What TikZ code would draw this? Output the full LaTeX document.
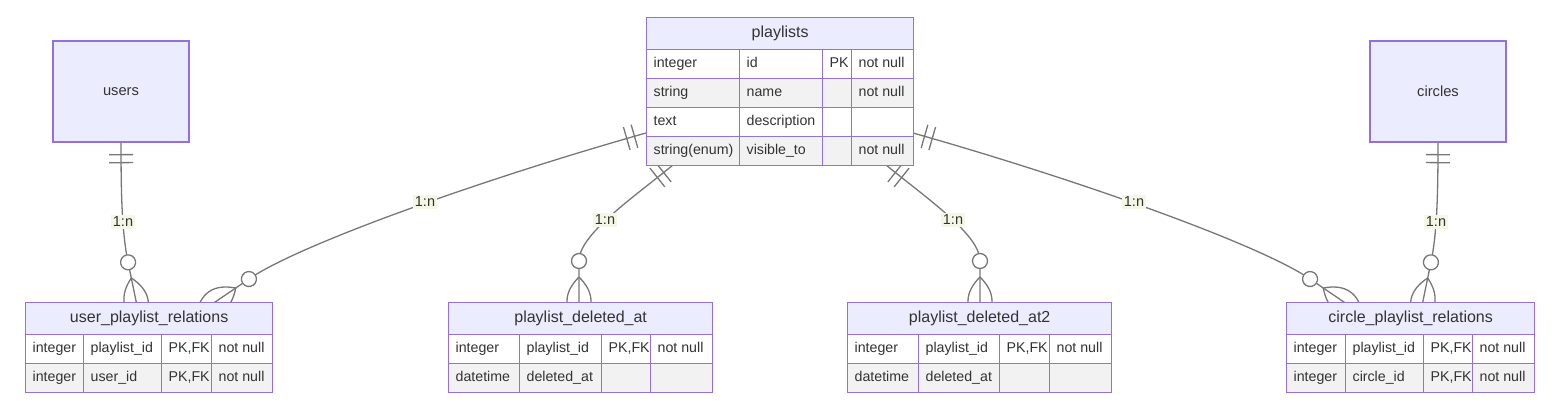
\documentclass[tikz,border=0pt]{standalone}
\usepackage{fontspec}
\setmainfont{Liberation Sans}
\usetikzlibrary{decorations.markings}
\definecolor{erborder}{HTML}{9370DB}
\definecolor{erhead}{HTML}{ECECFF}
\definecolor{errowb}{HTML}{F2F2F2}
\definecolor{ertext}{HTML}{333333}
\definecolor{erline}{HTML}{777777}
\definecolor{erlabel}{HTML}{F5F7E6}
\tikzset{
  cell/.style={draw=erborder, line width=1.3pt, anchor=north west, inner xsep=7pt, inner ysep=0pt,
    font=\fontsize{14.2}{16}\selectfont, text=ertext, text height=10.5pt, text depth=3.2pt},
  headcell/.style={cell, fill=erhead, font=\fontsize{16}{18}\selectfont, text height=11.5pt, text depth=3.5pt},
  entbox/.style={draw=erborder, line width=1.3pt, fill=erhead, text=ertext, font=\fontsize{14.7}{17}\selectfont, inner sep=0pt},
  rel/.style={draw=erline, line width=1.3pt,
    postaction={decorate},
    decoration={markings,
      mark=at position 12pt with {\draw[erline, line width=1.3pt] (0pt,-12pt) -- (0pt,12pt);},
      mark=at position 20pt with {\draw[erline, line width=1.3pt] (0pt,-12pt) -- (0pt,12pt);},
      mark=at position -1pt with {\draw[erline, line width=1.3pt] (-47pt,0pt) .. controls (-31pt,16pt) and (-15pt,16pt) .. (1pt,0pt);
                                \draw[erline, line width=1.3pt] (-47pt,0pt) .. controls (-31pt,-16pt) and (-15pt,-16pt) .. (1pt,0pt);
                                \draw[erline, line width=1.3pt, fill=white] (-63pt,0pt) circle[radius=7.5pt];}
    }},
  rellabel/.style={fill=erlabel, text=ertext, font=\fontsize{14.5}{16}\selectfont, inner xsep=2pt, inner ysep=2pt}
}
\newcommand{\ercell}[7]{%
  \pgfmathsetmacro{\cw}{#4-#2}\pgfmathsetmacro{\ch}{#5-#3}\pgfmathsetmacro{\tw}{#4-#2-14}%
  \node[cell, fill=#6, minimum width=\cw pt, minimum height=\ch pt] (#1) at (#2,#3) {\makebox[\tw pt][l]{#7}};%
}
\newcommand{\erhead}[3]{% name, y2, text
  \pgfmathsetmacro{\cw}{\xe-\xa}\pgfmathsetmacro{\ch}{#2-\ya}\pgfmathsetmacro{\tw}{\xe-\xa-14}%
  \node[headcell, minimum width=\cw pt, minimum height=\ch pt] (#1) at (\xa,\ya) {\makebox[\tw pt][c]{#3}};%
}
\newcommand{\errow}[8]{%
  \ercell{#1-1}{\xa}{#2}{\xb}{#3}{#4}{#5}%
  \ercell{#1-2}{\xb}{#2}{\xc}{#3}{#4}{#6}%
  \ercell{#1-3}{\xc}{#2}{\xd}{#3}{#4}{#7}%
  \ercell{#1-4}{\xd}{#2}{\xe}{#3}{#4}{#8}%
}
\begin{document}
\begin{tikzpicture}[x=1pt, y=-1pt]
\useasboundingbox (0,0) rectangle (1567,417);
% entity boxes without attributes
\node[entbox, minimum width=136pt, minimum height=101pt] (users) at (121,91.5) {users};
\node[entbox, minimum width=136pt, minimum height=101pt] (circles) at (1438,91.5) {circles};
% connector anchor coordinates
\coordinate (s2) at (646,133);
\coordinate (s3) at (673,165);
\coordinate (s4) at (886,165);
\coordinate (s5) at (913,133);
\coordinate (c1) at (128,262);  \coordinate (t1) at (141,325);
\coordinate (c2) at (249,279);  \coordinate (t2) at (196,315);
\coordinate (c3) at (579,261);  \coordinate (t3) at (579,325);
\coordinate (c4) at (980,261);  \coordinate (t4) at (980,325);
\coordinate (c5) at (1310,279); \coordinate (t5) at (1363,315);
\coordinate (c6) at (1431,262); \coordinate (t6) at (1418,325);
% connectors
\draw[rel] (users.south) .. controls (121,195) and (122,233) .. (c1) -- (t1);
\draw[rel] (s2) .. controls (480,180) and (298,245) .. (c2) -- (t2);
\draw[rel] (s3) .. controls (630,200) and (579,235) .. (c3) -- (t3);
\draw[rel] (s4) .. controls (929,200) and (980,235) .. (c4) -- (t4);
\draw[rel] (s5) .. controls (1079,180) and (1261,245) .. (c5) -- (t5);
\draw[rel] (circles.south) .. controls (1438,195) and (1437,233) .. (c6) -- (t6);
% labels
\node[rellabel] (l1) at (123,222) {1:n};
\node[rellabel] (l2) at (425,202) {1:n};
\node[rellabel] (l3) at (605,220) {1:n};
\node[rellabel] (l4) at (953,220) {1:n};
\node[rellabel] (l5) at (1134,202) {1:n};
\node[rellabel] (l6) at (1436,222) {1:n};
% playlists
\def\xa{646}\def\xb{739}\def\xc{822}\def\xd{851}\def\xe{913}\def\ya{17}
\erhead{pl}{49}{playlists}
\errow{pl-r1}{49}{78}{white}{integer}{id}{PK}{not null}
\errow{pl-r2}{78}{107}{errowb}{string}{name}{}{not null}
\errow{pl-r3}{107}{136}{white}{text}{description}{}{}
\errow{pl-r4}{136}{165}{errowb}{string(enum)}{visible\_to}{}{not null}
% user_playlist_relations
\def\xa{25}\def\xb{83}\def\xc{161}\def\xd{211}\def\xe{272}\def\ya{302}
\erhead{upr}{334}{user\_playlist\_relations}
\errow{upr-r1}{334}{363}{white}{integer}{playlist\_id}{PK,FK}{not null}
\errow{upr-r2}{363}{392}{errowb}{integer}{user\_id}{PK,FK}{not null}
% playlist_deleted_at
\def\xa{448}\def\xb{519}\def\xc{601}\def\xd{650}\def\xe{712}\def\ya{302}
\erhead{pda}{334}{playlist\_deleted\_at}
\errow{pda-r1}{334}{363}{white}{integer}{playlist\_id}{PK,FK}{not null}
\errow{pda-r2}{363}{392}{errowb}{datetime}{deleted\_at}{}{}
% playlist_deleted_at2
\def\xa{847}\def\xb{918}\def\xc{999}\def\xd{1049}\def\xe{1111}\def\ya{302}
\erhead{pdb}{334}{playlist\_deleted\_at2}
\errow{pdb-r1}{334}{363}{white}{integer}{playlist\_id}{PK,FK}{not null}
\errow{pdb-r2}{363}{392}{errowb}{datetime}{deleted\_at}{}{}
% circle_playlist_relations
\def\xa{1286}\def\xb{1345}\def\xc{1423}\def\xd{1472}\def\xe{1534}\def\ya{302}
\erhead{cpr}{334}{circle\_playlist\_relations}
\errow{cpr-r1}{334}{363}{white}{integer}{playlist\_id}{PK,FK}{not null}
\errow{cpr-r2}{363}{392}{errowb}{integer}{circle\_id}{PK,FK}{not null}
\end{tikzpicture}
\end{document}
